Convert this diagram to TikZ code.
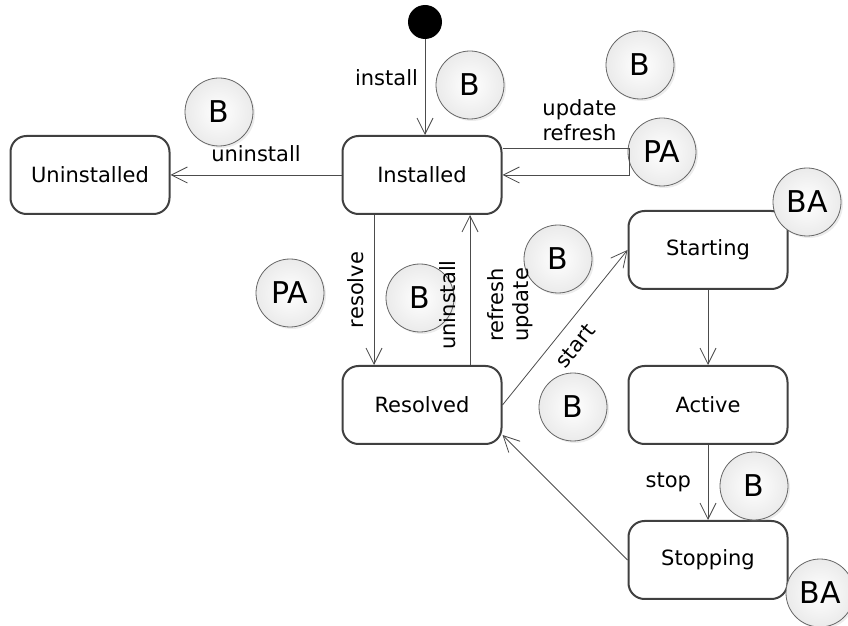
\documentclass[tikz,border=0pt]{standalone}
\usepackage{fontspec}
\setmainfont{DejaVu Sans}
\usetikzlibrary{arrows.meta,positioning,shadows}

\begin{document}
\begin{tikzpicture}[
    x=0.5pt, y=-0.5pt,
    estado/.style={draw=black!75, line width=1pt, rounded corners=8pt, fill=white, align=center, minimum width=79.5pt, minimum height=39pt, font=\fontsize{10.5}{12.5}\selectfont},
    selo/.style={circle, draw=black!60, line width=0.4pt, inner color=white, outer color=black!8, minimum size=34pt, inner sep=0pt, font=\fontsize{15}{17}\selectfont, drop shadow={opacity=0.15, shadow xshift=1pt, shadow yshift=-1pt}},
    rotulo/.style={font=\fontsize{10.5}{12.5}\selectfont, align=center},
    seta/.style={-{Straight Barb[length=8pt, width=8pt]}, draw=black!70, line width=0.4pt}
  ]
    \useasboundingbox (0,0) rectangle (848,626);

    % estados
    \node[circle, fill=black, minimum size=17pt, inner sep=0pt] (ini) at (425,22) {};
    \node[estado] (uninst) at (90,175) {Uninstalled};
    \node[estado] (inst) at (422,175) {Installed};
    \node[estado] (res) at (422,405) {Resolved};
    \node[estado] (starting) at (708,250) {Starting};
    \node[estado] (active) at (708,405) {Active};
    \node[estado] (stopping) at (708,560) {Stopping};

    % selos
    \node[selo] (b1) at (470,85) {B};
    \node[selo] (b2) at (640,65) {B};
    \node[selo] (b3) at (219,112) {B};
    \node[selo] (pa1) at (662,152) {PA};
    \node[selo] (ba1) at (807,202) {BA};
    \node[selo] (pa2) at (290,293) {PA};
    \node[selo] (b4) at (420,298) {B};
    \node[selo] (b5) at (558,259) {B};
    \node[selo] (b6) at (573,407) {B};
    \node[selo] (b7) at (754,486) {B};
    \node[selo] (ba2) at (820,593) {BA};

    % transicoes
    \draw[seta] (ini) -- (ini |- inst.north) node[pos=0.4, left, rotulo] {install};
    \draw[seta] (inst) -- (uninst) node[midway, above=3pt, rotulo] {uninstall};
    \draw[seta] ([yshift=13.5pt]inst.east) -- ++(63.5pt,0)
      node[anchor=south east, xshift=-3pt, rotulo] {update\\refresh} |- (inst.east);
    \draw[seta] ([xshift=-24pt]inst.south) -- ([xshift=-24pt]res.north)
      node[midway, rotate=90, anchor=south, inner ysep=5pt, rotulo] {resolve};
    \draw[seta] ([xshift=24pt]res.north) -- ([xshift=24pt]inst.south)
      node[pos=0.4, rotate=90, anchor=south, inner ysep=7pt, rotulo] {uninstall}
      node[pos=0.4, rotate=90, anchor=north, inner ysep=8.5pt, rotulo] {refresh\\update};
    \draw[seta] (res.east) -- (starting.west) node[pos=0.46, sloped, below=2.5pt, rotulo] {start};
    \draw[seta] (starting) -- (active);
    \draw[seta] (active) -- (stopping) node[midway, left=5pt, rotulo] {stop};
    \draw[seta] (stopping.west) -- ([yshift=-15pt]res.east);
  \end{tikzpicture}
\end{document}
